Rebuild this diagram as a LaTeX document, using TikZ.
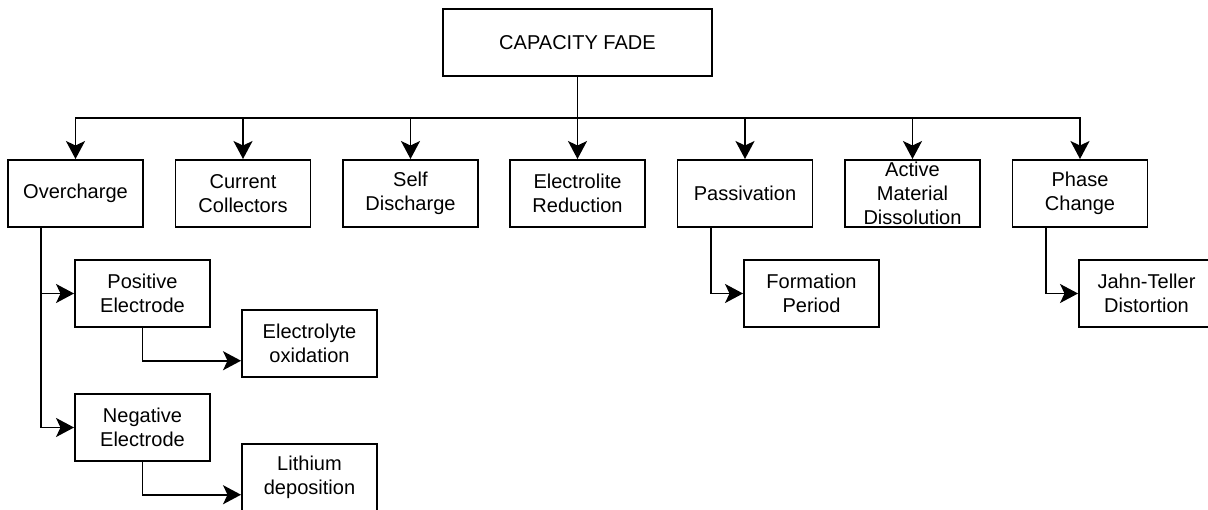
\documentclass[tikz,border=0pt]{standalone}
\usepackage{fontspec}
\setmainfont{Liberation Sans}
\usetikzlibrary{arrows.meta,calc}

\begin{document}
\begin{tikzpicture}[
  >={Stealth[length=3.6mm,width=3.8mm,inset=0.9mm]},
  boite/.style={draw,line width=1.1pt,minimum width=2.7cm,minimum height=1.34cm,
    align=center,inner sep=1pt,font=\fontsize{11.4}{13.6}\selectfont},
  lien/.style={line width=1.1pt,->},
]
  \useasboundingbox (0,0) rectangle (24.16,-10.2);

  % Coordonnees
  \coordinate (bus) at (0,-2.36);

  % Boite principale
  \node[boite,minimum width=5.38cm] (cap) at (11.55,-0.85) {CAPACITY FADE};

  % Premier niveau
  \node[boite] (over)  at (1.51,-3.87)  {Overcharge};
  \node[boite] (coll)  at (4.86,-3.87)  {Current\\Collectors};
  \node[boite] (self)  at (8.21,-3.87)  {Self\\Discharge};
  \node[boite] (red)   at (11.55,-3.87) {Electrolite\\Reduction};
  \node[boite] (pass)  at (14.90,-3.87) {Passivation};
  \node[boite] (diss)  at (18.25,-3.87) {Active\\Material\\Dissolution};
  \node[boite] (phase) at (21.60,-3.87) {Phase\\Change};

  % Second niveau
  \node[boite] (pos)   at (2.85,-5.87)  {Positive\\Electrode};
  \node[boite] (oxid)  at (6.19,-6.87)  {Electrolyte\\oxidation};
  \node[boite] (neg)   at (2.85,-8.55)  {Negative\\Electrode};
  \node[boite] (li)    at (6.19,-9.55)  {Lithium\\deposition};
  \node[boite] (form)  at (16.23,-5.87) {Formation\\Period};
  \node[boite] (jahn)  at (22.93,-5.87) {Jahn-Teller\\Distortion};

  % Liens vers le premier niveau
  \foreach \n in {over,coll,self,red,pass,diss,phase}
    \draw[lien] (cap.south) -- (cap.south |- bus) -| (\n.north);

  % Liens vers le second niveau
  \coordinate (overQ)  at ($(over.south west)!0.25!(over.south east)$);
  \coordinate (passQ)  at ($(pass.south west)!0.25!(pass.south east)$);
  \coordinate (phaseQ) at ($(phase.south west)!0.25!(phase.south east)$);
  \draw[lien] (overQ) |- (pos.west);
  \draw[lien] (overQ) |- (neg.west);
  \draw[lien] (pos.south) |- ($(oxid.west)!0.5!(oxid.south west)$);
  \draw[lien] (neg.south) |- ($(li.west)!0.5!(li.south west)$);
  \draw[lien] (passQ) |- (form.west);
  \draw[lien] (phaseQ) |- (jahn.west);
\end{tikzpicture}
\end{document}
